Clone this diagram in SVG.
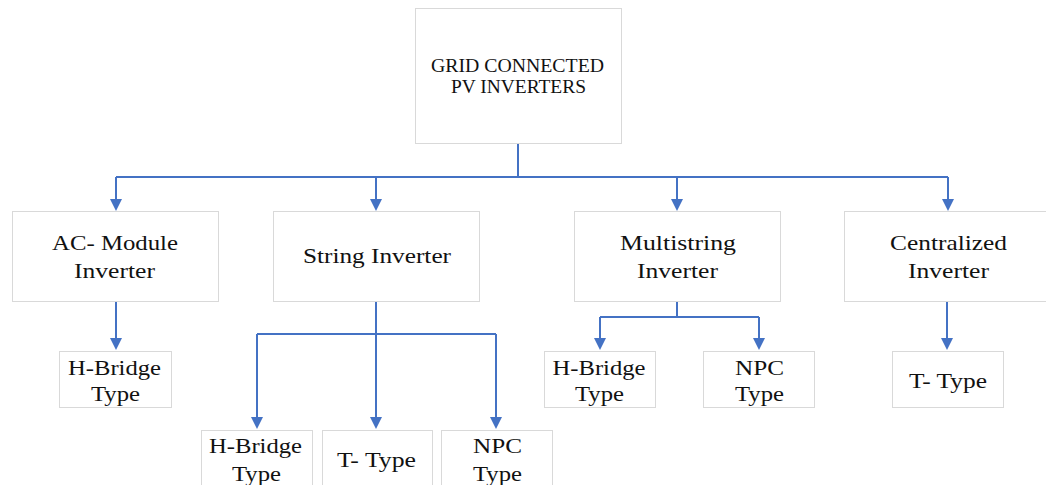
<svg xmlns="http://www.w3.org/2000/svg" width="1046" height="485" viewBox="0 0 1046 485">
<style>
.box{fill:#ffffff;stroke:#d9d9d9;stroke-width:1}
.t{font-family:"Liberation Serif","Times New Roman",serif;font-size:22px;fill:#111111;text-anchor:middle}
.ts{font-size:19px}
.c{fill:none;stroke:#4472C4;stroke-width:2}
</style>
<defs>
<marker id="ah" viewBox="0 0 12 12" refX="6" refY="6" markerWidth="12" markerHeight="12" markerUnits="userSpaceOnUse" orient="auto">
<path d="M0,0 L12,6 L0,12 z" fill="#4472C4"/>
</marker>
</defs>
<rect width="1046" height="485" fill="#ffffff"/>
<g id="connectors">
<path class="c" d="M518,143 V177"/>
<path class="c" d="M116,177 H948"/>
<path class="c" d="M116,177 V205" marker-end="url(#ah)"/>
<path class="c" d="M376,177 V205" marker-end="url(#ah)"/>
<path class="c" d="M677,177 V205" marker-end="url(#ah)"/>
<path class="c" d="M948,177 V205" marker-end="url(#ah)"/>
<path class="c" d="M116,301 V344" marker-end="url(#ah)"/>
<path class="c" d="M376,301 V423" marker-end="url(#ah)"/>
<path class="c" d="M257,334 H496"/>
<path class="c" d="M257,334 V423" marker-end="url(#ah)"/>
<path class="c" d="M496,334 V423" marker-end="url(#ah)"/>
<path class="c" d="M677,301 V317"/>
<path class="c" d="M600,317 H759"/>
<path class="c" d="M600,317 V344" marker-end="url(#ah)"/>
<path class="c" d="M759,317 V344" marker-end="url(#ah)"/>
<path class="c" d="M947,301 V344" marker-end="url(#ah)"/>
</g>
<g id="root">
<rect class="box" x="415.5" y="8.5" width="206" height="135"/>
<text class="t ts" x="517.5" y="72" textLength="173" lengthAdjust="spacingAndGlyphs">GRID CONNECTED</text>
<text class="t ts" x="518.5" y="93" textLength="135" lengthAdjust="spacingAndGlyphs">PV INVERTERS</text>
</g>
<g id="ac-module">
<rect class="box" x="12.5" y="211.5" width="206" height="90"/>
<text class="t" x="115" y="250" textLength="126" lengthAdjust="spacingAndGlyphs">AC- Module</text>
<text class="t" x="114.5" y="278" textLength="81" lengthAdjust="spacingAndGlyphs">Inverter</text>
</g>
<g id="string">
<rect class="box" x="273.5" y="211.5" width="206" height="90"/>
<text class="t" x="377" y="263" textLength="148" lengthAdjust="spacingAndGlyphs">String Inverter</text>
</g>
<g id="multistring">
<rect class="box" x="574.5" y="211.5" width="206" height="90"/>
<text class="t" x="678" y="250" textLength="116" lengthAdjust="spacingAndGlyphs">Multistring</text>
<text class="t" x="677.5" y="278" textLength="81" lengthAdjust="spacingAndGlyphs">Inverter</text>
</g>
<g id="centralized">
<rect class="box" x="844.5" y="211.5" width="206" height="90"/>
<text class="t" x="948.5" y="250" textLength="117" lengthAdjust="spacingAndGlyphs">Centralized</text>
<text class="t" x="948.5" y="278" textLength="81" lengthAdjust="spacingAndGlyphs">Inverter</text>
</g>
<g id="ac-hbridge">
<rect class="box" x="59.5" y="351.5" width="112" height="56"/>
<text class="t" x="114.5" y="375" textLength="93" lengthAdjust="spacingAndGlyphs">H-Bridge</text>
<text class="t" x="115.5" y="401" textLength="49" lengthAdjust="spacingAndGlyphs">Type</text>
</g>
<g id="string-hbridge">
<rect class="box" x="201.5" y="430.5" width="111" height="60"/>
<text class="t" x="255.5" y="453" textLength="93" lengthAdjust="spacingAndGlyphs">H-Bridge</text>
<text class="t" x="256.5" y="481" textLength="49" lengthAdjust="spacingAndGlyphs">Type</text>
</g>
<g id="string-ttype">
<rect class="box" x="322.5" y="430.5" width="110" height="60"/>
<text class="t" x="376.5" y="467" textLength="79" lengthAdjust="spacingAndGlyphs">T- Type</text>
</g>
<g id="string-npc">
<rect class="box" x="441.5" y="430.5" width="111" height="60"/>
<text class="t" x="497.5" y="453" textLength="49" lengthAdjust="spacingAndGlyphs">NPC</text>
<text class="t" x="497.5" y="481" textLength="49" lengthAdjust="spacingAndGlyphs">Type</text>
</g>
<g id="multi-hbridge">
<rect class="box" x="544.5" y="351.5" width="111" height="56"/>
<text class="t" x="599" y="375" textLength="93" lengthAdjust="spacingAndGlyphs">H-Bridge</text>
<text class="t" x="599.5" y="401" textLength="49" lengthAdjust="spacingAndGlyphs">Type</text>
</g>
<g id="multi-npc">
<rect class="box" x="703.5" y="351.5" width="111" height="56"/>
<text class="t" x="759.5" y="375" textLength="49" lengthAdjust="spacingAndGlyphs">NPC</text>
<text class="t" x="759.5" y="401" textLength="49" lengthAdjust="spacingAndGlyphs">Type</text>
</g>
<g id="central-ttype">
<rect class="box" x="892.5" y="351.5" width="111" height="56"/>
<text class="t" x="948" y="388" textLength="78" lengthAdjust="spacingAndGlyphs">T- Type</text>
</g>
</svg>
